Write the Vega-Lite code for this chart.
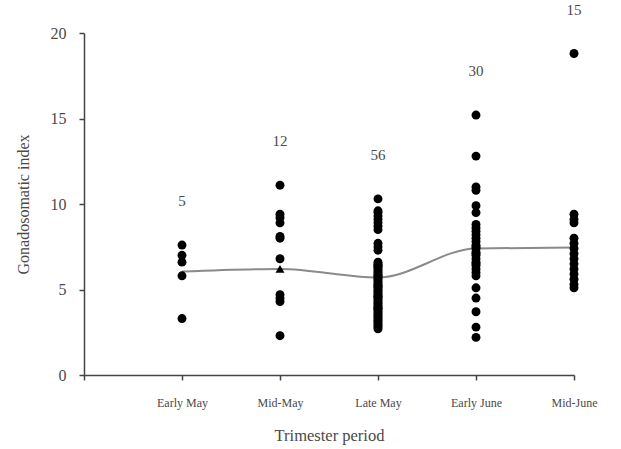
{
  "$schema": "https://vega.github.io/schema/vega-lite/v6.json",
  "width": 490,
  "height": 342,
  "autosize": {"type": "none"},
  "padding": {"left": 84, "top": 33, "right": 47, "bottom": 74},
  "background": "white",
  "config": {
    "view": {"stroke": null},
    "font": "Liberation Serif",
    "axis": {
      "grid": false,
      "domainColor": "#444",
      "tickColor": "#444",
      "labelColor": "#4a4a4a",
      "titleColor": "#4a4a4a",
      "labelFont": "Liberation Serif",
      "titleFont": "Liberation Serif",
      "titleFontWeight": "normal",
      "domainWidth": 1.5,
      "tickWidth": 1.5,
      "tickSize": 5
    }
  },
  "datasets": {
    "means": [
      {"period": "Early May", "mean": 6.05},
      {"period": "Mid-May", "mean": 6.2},
      {"period": "Late May", "mean": 5.7},
      {"period": "Early June", "mean": 7.4},
      {"period": "Mid-June", "mean": 7.45}
    ],
    "points": [
      {"period": "Early May", "gsi": 7.6, "marker": "circle"},
      {"period": "Early May", "gsi": 7.0, "marker": "circle"},
      {"period": "Early May", "gsi": 6.6, "marker": "circle"},
      {"period": "Early May", "gsi": 5.8, "marker": "circle"},
      {"period": "Early May", "gsi": 3.3, "marker": "circle"},

      {"period": "Mid-May", "gsi": 11.1, "marker": "circle"},
      {"period": "Mid-May", "gsi": 9.4, "marker": "circle"},
      {"period": "Mid-May", "gsi": 9.2, "marker": "circle"},
      {"period": "Mid-May", "gsi": 8.9, "marker": "circle"},
      {"period": "Mid-May", "gsi": 8.1, "marker": "circle"},
      {"period": "Mid-May", "gsi": 8.0, "marker": "circle"},
      {"period": "Mid-May", "gsi": 6.8, "marker": "circle"},
      {"period": "Mid-May", "gsi": 6.2, "marker": "triangle"},
      {"period": "Mid-May", "gsi": 4.7, "marker": "circle"},
      {"period": "Mid-May", "gsi": 4.5, "marker": "circle"},
      {"period": "Mid-May", "gsi": 4.3, "marker": "circle"},
      {"period": "Mid-May", "gsi": 2.3, "marker": "circle"},

      {"period": "Late May", "gsi": 10.3, "marker": "circle"},
      {"period": "Late May", "gsi": 9.6, "marker": "circle"},
      {"period": "Late May", "gsi": 9.5, "marker": "circle"},
      {"period": "Late May", "gsi": 9.3, "marker": "circle"},
      {"period": "Late May", "gsi": 9.1, "marker": "circle"},
      {"period": "Late May", "gsi": 8.9, "marker": "circle"},
      {"period": "Late May", "gsi": 8.7, "marker": "circle"},
      {"period": "Late May", "gsi": 8.5, "marker": "circle"},
      {"period": "Late May", "gsi": 7.7, "marker": "circle"},
      {"period": "Late May", "gsi": 7.5, "marker": "circle"},
      {"period": "Late May", "gsi": 7.3, "marker": "circle"},
      {"period": "Late May", "gsi": 6.6, "marker": "circle"},
      {"period": "Late May", "gsi": 6.5, "marker": "circle"},
      {"period": "Late May", "gsi": 6.4, "marker": "circle"},
      {"period": "Late May", "gsi": 6.4, "marker": "circle"},
      {"period": "Late May", "gsi": 6.3, "marker": "circle"},
      {"period": "Late May", "gsi": 6.2, "marker": "circle"},
      {"period": "Late May", "gsi": 6.1, "marker": "circle"},
      {"period": "Late May", "gsi": 6.0, "marker": "circle"},
      {"period": "Late May", "gsi": 5.9, "marker": "circle"},
      {"period": "Late May", "gsi": 5.8, "marker": "circle"},
      {"period": "Late May", "gsi": 5.8, "marker": "circle"},
      {"period": "Late May", "gsi": 5.7, "marker": "circle"},
      {"period": "Late May", "gsi": 5.6, "marker": "circle"},
      {"period": "Late May", "gsi": 5.5, "marker": "circle"},
      {"period": "Late May", "gsi": 5.4, "marker": "circle"},
      {"period": "Late May", "gsi": 5.3, "marker": "circle"},
      {"period": "Late May", "gsi": 5.2, "marker": "circle"},
      {"period": "Late May", "gsi": 5.2, "marker": "circle"},
      {"period": "Late May", "gsi": 5.1, "marker": "circle"},
      {"period": "Late May", "gsi": 5.0, "marker": "circle"},
      {"period": "Late May", "gsi": 4.9, "marker": "circle"},
      {"period": "Late May", "gsi": 4.8, "marker": "circle"},
      {"period": "Late May", "gsi": 4.7, "marker": "circle"},
      {"period": "Late May", "gsi": 4.6, "marker": "circle"},
      {"period": "Late May", "gsi": 4.6, "marker": "circle"},
      {"period": "Late May", "gsi": 4.5, "marker": "circle"},
      {"period": "Late May", "gsi": 4.4, "marker": "circle"},
      {"period": "Late May", "gsi": 4.3, "marker": "circle"},
      {"period": "Late May", "gsi": 4.2, "marker": "circle"},
      {"period": "Late May", "gsi": 4.1, "marker": "circle"},
      {"period": "Late May", "gsi": 4.0, "marker": "circle"},
      {"period": "Late May", "gsi": 3.9, "marker": "circle"},
      {"period": "Late May", "gsi": 3.9, "marker": "circle"},
      {"period": "Late May", "gsi": 3.8, "marker": "circle"},
      {"period": "Late May", "gsi": 3.7, "marker": "circle"},
      {"period": "Late May", "gsi": 3.6, "marker": "circle"},
      {"period": "Late May", "gsi": 3.5, "marker": "circle"},
      {"period": "Late May", "gsi": 3.4, "marker": "circle"},
      {"period": "Late May", "gsi": 3.3, "marker": "circle"},
      {"period": "Late May", "gsi": 3.2, "marker": "circle"},
      {"period": "Late May", "gsi": 3.1, "marker": "circle"},
      {"period": "Late May", "gsi": 3.0, "marker": "circle"},
      {"period": "Late May", "gsi": 2.9, "marker": "circle"},
      {"period": "Late May", "gsi": 2.8, "marker": "circle"},
      {"period": "Late May", "gsi": 2.7, "marker": "circle"},

      {"period": "Early June", "gsi": 15.2, "marker": "circle"},
      {"period": "Early June", "gsi": 12.8, "marker": "circle"},
      {"period": "Early June", "gsi": 11.0, "marker": "circle"},
      {"period": "Early June", "gsi": 10.8, "marker": "circle"},
      {"period": "Early June", "gsi": 9.9, "marker": "circle"},
      {"period": "Early June", "gsi": 9.5, "marker": "circle"},
      {"period": "Early June", "gsi": 8.8, "marker": "circle"},
      {"period": "Early June", "gsi": 8.6, "marker": "circle"},
      {"period": "Early June", "gsi": 8.4, "marker": "circle"},
      {"period": "Early June", "gsi": 8.2, "marker": "circle"},
      {"period": "Early June", "gsi": 8.0, "marker": "circle"},
      {"period": "Early June", "gsi": 7.8, "marker": "circle"},
      {"period": "Early June", "gsi": 7.6, "marker": "circle"},
      {"period": "Early June", "gsi": 7.5, "marker": "circle"},
      {"period": "Early June", "gsi": 7.4, "marker": "circle"},
      {"period": "Early June", "gsi": 7.2, "marker": "circle"},
      {"period": "Early June", "gsi": 7.1, "marker": "circle"},
      {"period": "Early June", "gsi": 7.0, "marker": "circle"},
      {"period": "Early June", "gsi": 6.8, "marker": "circle"},
      {"period": "Early June", "gsi": 6.6, "marker": "circle"},
      {"period": "Early June", "gsi": 6.5, "marker": "circle"},
      {"period": "Early June", "gsi": 6.4, "marker": "circle"},
      {"period": "Early June", "gsi": 6.2, "marker": "circle"},
      {"period": "Early June", "gsi": 6.0, "marker": "circle"},
      {"period": "Early June", "gsi": 5.8, "marker": "circle"},
      {"period": "Early June", "gsi": 5.1, "marker": "circle"},
      {"period": "Early June", "gsi": 4.5, "marker": "circle"},
      {"period": "Early June", "gsi": 3.7, "marker": "circle"},
      {"period": "Early June", "gsi": 2.8, "marker": "circle"},
      {"period": "Early June", "gsi": 2.2, "marker": "circle"},

      {"period": "Mid-June", "gsi": 18.8, "marker": "circle"},
      {"period": "Mid-June", "gsi": 9.4, "marker": "circle"},
      {"period": "Mid-June", "gsi": 9.1, "marker": "circle"},
      {"period": "Mid-June", "gsi": 8.9, "marker": "circle"},
      {"period": "Mid-June", "gsi": 8.0, "marker": "circle"},
      {"period": "Mid-June", "gsi": 7.7, "marker": "circle"},
      {"period": "Mid-June", "gsi": 7.4, "marker": "circle"},
      {"period": "Mid-June", "gsi": 7.1, "marker": "circle"},
      {"period": "Mid-June", "gsi": 6.8, "marker": "circle"},
      {"period": "Mid-June", "gsi": 6.5, "marker": "circle"},
      {"period": "Mid-June", "gsi": 6.2, "marker": "circle"},
      {"period": "Mid-June", "gsi": 5.9, "marker": "circle"},
      {"period": "Mid-June", "gsi": 5.6, "marker": "circle"},
      {"period": "Mid-June", "gsi": 5.3, "marker": "circle"},
      {"period": "Mid-June", "gsi": 5.1, "marker": "circle"}
    ]
  },
  "layer": [
    {
      "data": {"name": "means"},
      "mark": {"type": "line", "color": "#8a8a8a", "strokeWidth": 2, "interpolate": "monotone"},
      "encoding": {
        "x": {
          "field": "period",
          "type": "ordinal",
          "scale": {"type": "point", "domain": ["", "Early May", "Mid-May", "Late May", "Early June", "Mid-June"], "padding": 0},
          "axis": {"title": "Trimester period", "labelAngle": 0, "labelFontSize": 12, "labelPadding": 17, "titleFontSize": 16.5, "titlePadding": 19}
        },
        "y": {
          "field": "mean",
          "type": "quantitative",
          "scale": {"domain": [0, 20], "nice": false},
          "axis": {"title": "Gonadosomatic index", "values": [0, 5, 10, 15, 20], "labelFontSize": 16, "labelPadding": 13, "titleFontSize": 16, "titlePadding": 19}
        }
      }
    },
    {
      "data": {"name": "points"},
      "mark": {"type": "point", "filled": true, "color": "black", "size": 80, "opacity": 1},
      "encoding": {
        "x": {"field": "period", "type": "ordinal"},
        "y": {"field": "gsi", "type": "quantitative"},
        "shape": {"field": "marker", "type": "nominal", "scale": {"domain": ["circle", "triangle"], "range": ["circle", "triangle-up"]}, "legend": null}
      }
    },
    {
      "data": {"name": "points"},
      "transform": [{"aggregate": [{"op": "max", "field": "gsi", "as": "top"}, {"op": "count", "as": "n"}], "groupby": ["period"]}],
      "mark": {"type": "text", "dy": -44, "fontSize": 15, "color": "#4a4a4a", "font": "Liberation Serif"},
      "encoding": {
        "x": {"field": "period", "type": "ordinal"},
        "y": {"field": "top", "type": "quantitative"},
        "text": {"field": "n", "type": "quantitative"}
      }
    }
  ]
}
